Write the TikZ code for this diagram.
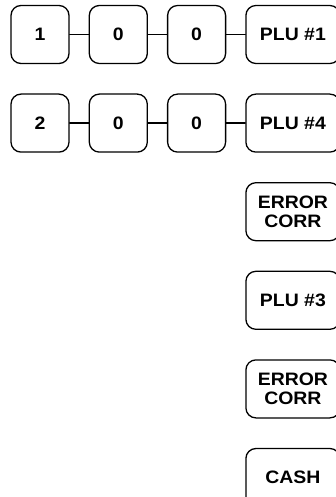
\documentclass[tikz,border=0pt]{standalone}
\usepackage{fontspec}
\setmainfont{Liberation Sans}[FakeStretch=1.08]
\usetikzlibrary{positioning}
\tikzset{
  every picture/.style={line join=round, line cap=round},
  keybox/.style={draw, line width=1.3pt, rounded corners=10pt, minimum width=58pt,
    minimum height=58pt, inner sep=0pt, align=center,
    font=\fontsize{18}{18.5}\selectfont\bfseries},
  widekey/.style={keybox, minimum width=94pt},
  link/.style={line width=1.3pt},
}

\begin{document}
\begin{tikzpicture}[x=1pt,y=1pt]
\useasboundingbox (0,0) rectangle (336,-497);
% first entry: 1 0 0 PLU #1
\node[keybox] (a1) at (40,-34.5) {1};
\node[keybox, right=19pt of a1] (a2) {0};
\node[keybox, right=19pt of a2] (a3) {0};
\node[widekey, right=19pt of a3] (a4) {PLU \#1};
% second entry: 2 0 0 PLU #4
\node[keybox, below=29.3pt of a1] (b1) {2};
\node[keybox, right=19pt of b1] (b2) {0};
\node[keybox, right=19pt of b2] (b3) {0};
\node[widekey, right=19pt of b3] (b4) {PLU \#4};
% single keys
\node[widekey, below=29.3pt of b4] (err1) {ERROR\\CORR};
\node[widekey, below=29.3pt of err1] (plu3) {PLU \#3};
\node[widekey, below=29.3pt of plu3] (err2) {ERROR\\CORR};
\node[widekey, below=29.3pt of err2] (cash) {CASH};
\foreach \r in {a,b}{
  \draw[link] (\r1) -- (\r2);
  \draw[link] (\r2) -- (\r3);
  \draw[link] (\r3) -- (\r4);
}
\end{tikzpicture}
\end{document}
